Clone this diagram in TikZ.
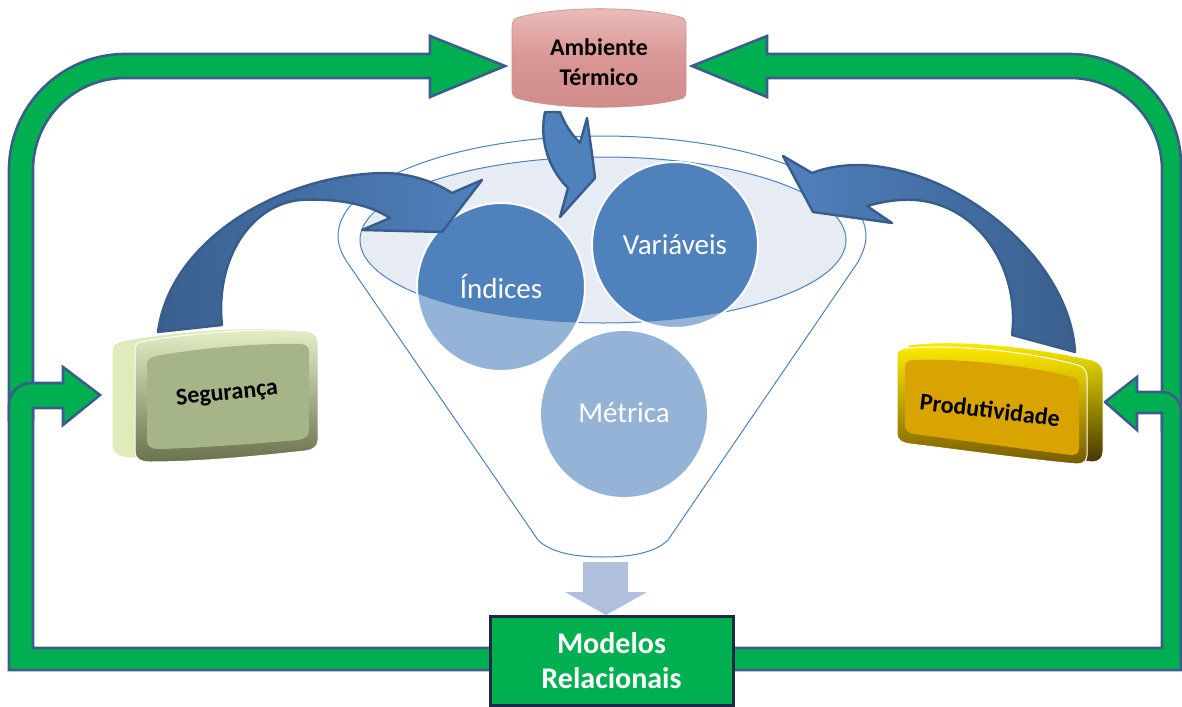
\documentclass[tikz,border=0pt]{standalone}
\usepackage{fontspec}
\setmainfont{Carlito}
\definecolor{grn}{HTML}{00B050}
\definecolor{gedge}{HTML}{3A5E8C}
\definecolor{bfill}{HTML}{4F81BD}
\definecolor{bdark}{HTML}{3A5F8E}
\definecolor{bedge}{HTML}{385D8A}
\definecolor{lightc}{HTML}{95B3D7}
\definecolor{ellc}{HTML}{E6EBF4}
\definecolor{dnarrow}{HTML}{AFBFDC}
\definecolor{navy}{HTML}{1B2A45}
\definecolor{pinkA}{HTML}{EBBDBC}
\definecolor{pinkB}{HTML}{D99694}
\definecolor{pinkC}{HTML}{CF8C8A}
\definecolor{segback}{RGB}{224,235,186}
\definecolor{segtop}{RGB}{230,240,200}
\definecolor{segmid}{RGB}{200,214,150}
\definecolor{segbot}{RGB}{105,114,78}
\definecolor{segface}{RGB}{165,181,136}
\definecolor{prodtop}{RGB}{255,242,0}
\definecolor{prodbackbot}{RGB}{70,54,0}
\definecolor{prodftop}{RGB}{255,236,0}
\definecolor{prodfmid}{RGB}{224,168,0}
\definecolor{prodfbot}{RGB}{120,90,0}
\definecolor{prodface}{RGB}{217,163,0}
\begin{document}
\begin{tikzpicture}[x=1pt,y=-1pt,
  garrow/.style={fill=grn, draw=gedge, line width=2.6pt, line join=miter},
  barrowst/.style={draw=bedge, line width=2.4pt, line join=round},
  ctext/.style={text=white, font=\fontsize{29}{34}\selectfont, inner sep=0pt},
  btext/.style={text=black, font=\bfseries\fontsize{24}{30}\selectfont, align=center, inner sep=0pt},
  wtext/.style={text=white, font=\bfseries\fontsize{30}{35}\selectfont, align=center, inner sep=0pt},
  thinblue/.style={draw=bfill, line width=1pt},
]
\useasboundingbox (0,0) rectangle (1182,706);

% ---------- funnel ----------
\draw[thinblue, fill=white] (338,236) .. controls (338,181) and (456,136) .. (602,136)
  .. controls (748,136) and (866,181) .. (866,236)
  .. controls (866,246) and (862,254) .. (858,262) -- (668,540)
  .. controls (655,553) and (630,557) .. (603,557)
  .. controls (576,557) and (551,553) .. (538,540) -- (347,262)
  .. controls (342,254) and (338,246) .. (338,236) -- cycle;
\draw[thinblue, fill=ellc] (603,240) ellipse [x radius=243, y radius=83];

% ---------- circles ----------
\fill[lightc] (501,287) circle [radius=84];
\fill[lightc] (675,245) circle [radius=83];
\fill[lightc] (624,414) circle [radius=83];
\begin{scope}
  \clip (603,240) ellipse [x radius=243, y radius=83];
  \fill[bfill] (501,287) circle [radius=84];
  \fill[bfill] (675,245) circle [radius=83];
\end{scope}
\draw[white, line width=2pt] (501,287) circle [radius=84];
\draw[white, line width=2pt] (675,245) circle [radius=83];
\node[ctext] (ind) at (501,286) {Índices};
\node[ctext] (var) at (675,245) {Variáveis};
\node[ctext] (met) at (624,413) {Métrica};

% ---------- down arrow ----------
\fill[dnarrow] (583,562) -- (628,562) -- (628,592) -- (647,592) -- (606,615) -- (565,592) -- (583,592) -- cycle;

% ---------- green loop arrows ----------
\draw[garrow] (9,420) -- (9,170) .. controls (9,106) and (61,54) .. (125,54) -- (430,54) -- (430,36)
  -- (505,66) -- (430,97) -- (430,78) -- (125,78) .. controls (74,78) and (33,119) .. (33,170) -- (33,420) -- cycle;
\draw[garrow] (9,670) -- (9,405) .. controls (9,393) and (19,383) .. (31,383) -- (63,383) -- (63,367)
  -- (100,395) -- (63,425) -- (63,408) -- (33,408) -- (33,648) -- (492,648) -- (492,670) -- cycle;
\draw[garrow] (1181,430) -- (1181,165) .. controls (1181,104) and (1131,54) .. (1070,54) -- (767,54) -- (767,36)
  -- (692,66) -- (767,97) -- (767,78) -- (1070,78) .. controls (1121,78) and (1162,119) .. (1162,170) -- (1162,430) -- cycle;
\draw[garrow] (1181,670) -- (1181,412) .. controls (1181,401) and (1173,392) .. (1162,392) -- (1137,392) -- (1137,377)
  -- (1105,402) -- (1137,430) -- (1137,413) -- (1162,413) -- (1162,648) -- (732,648) -- (732,670) -- cycle;

% ---------- blue curved arrows ----------
\draw[barrowst, left color=bdark, right color=bfill]
  (158,332) .. controls (170,240) and (280,175) .. (383,173)
  .. controls (410,173) and (435,182) .. (452,193) -- (482,180) -- (442,232) -- (362,230) -- (390,218)
  .. controls (370,205) and (340,198) .. (300,200)
  .. controls (250,205) and (215,260) .. (222,325) -- cycle;
\draw[barrowst, left color=bfill, right color=bdark]
  (1075,352) .. controls (1070,260) and (960,168) .. (860,165)
  .. controls (840,165) and (825,168) .. (812,173) -- (783,156) -- (813,212) -- (892,223) -- (867,206)
  .. controls (885,201) and (900,199) .. (915,200)
  .. controls (980,205) and (1020,270) .. (1012,335) -- cycle;
\draw[barrowst, fill=bfill]
  (545,112) .. controls (540,135) and (545,165) .. (568,188) -- (560,217) -- (595,178)
  .. controls (593,160) and (590,140) .. (587,118) -- (580,143)
  .. controls (572,135) and (565,125) .. (560,112) -- cycle;

% ---------- Ambiente Termico ----------
\draw[draw=pinkC, line width=0.6pt, top color=pinkA, bottom color=pinkC, middle color=pinkB]
  (512,28) .. controls (512,20) and (515,18) .. (520,17) .. controls (560,6) and (640,6) .. (680,17)
  .. controls (685,18) and (686,20) .. (686,28) -- (686,90) .. controls (686,96) and (685,98) .. (680,99)
  .. controls (640,110) and (560,110) .. (520,99) .. controls (515,98) and (512,96) .. (512,90) -- cycle;
\node[btext, font=\bfseries\fontsize{24}{30}\selectfont] (amb) at (599,62) {Ambiente\\Térmico};

% ---------- Seguranca ----------
\draw[white, line width=1pt, fill=segback]
  (112,352) .. controls (112,345) and (115,343) .. (122,341) .. controls (180,330) and (250,326) .. (300,330)
  -- (300,445) .. controls (250,452) and (180,458) .. (130,458) .. controls (118,458) and (112,452) .. (112,445) -- cycle;
\draw[white, line width=1pt, top color=segtop, middle color=segmid, bottom color=segbot]
  (135,350) .. controls (135,344) and (138,342) .. (145,341) .. controls (200,332) and (260,328) .. (305,331)
  .. controls (314,332) and (318,336) .. (318,343) -- (318,440) .. controls (318,446) and (314,450) .. (305,451)
  .. controls (260,456) and (200,462) .. (150,462) .. controls (140,462) and (135,458) .. (135,452) -- cycle;
\fill[segface]
  (147,365) .. controls (147,360) and (150,357) .. (156,356) .. controls (200,348) and (260,343) .. (300,344)
  .. controls (306,344) and (309,347) .. (309,352) -- (309,430) .. controls (309,436) and (305,439) .. (298,440)
  .. controls (250,444) and (200,448) .. (158,449) .. controls (151,449) and (147,446) .. (147,440) -- cycle;
\node[btext, font=\bfseries\fontsize{24}{28}\selectfont, rotate=6] (seg) at (227,394) {Segurança};

% ---------- Produtividade ----------
\draw[white, line width=1pt, top color=prodtop, bottom color=prodbackbot]
  (908,345) .. controls (960,338) and (1040,348) .. (1092,360) .. controls (1099,362) and (1103,366) .. (1103,372)
  -- (1103,452) .. controls (1103,458) and (1099,462) .. (1092,462) -- (920,440) -- cycle;
\draw[white, line width=1pt, top color=prodftop, middle color=prodfmid, bottom color=prodfbot]
  (897,356) .. controls (897,350) and (901,348) .. (908,348) .. controls (960,344) and (1030,352) .. (1078,365)
  .. controls (1084,367) and (1087,371) .. (1087,377) -- (1087,455) .. controls (1087,461) and (1083,464) .. (1077,464)
  .. controls (1030,460) and (960,450) .. (910,444) .. controls (902,443) and (897,440) .. (897,434) -- cycle;
\fill[prodface]
  (905,367) .. controls (905,362) and (908,360) .. (914,360) .. controls (960,358) and (1030,366) .. (1072,377)
  .. controls (1077,378) and (1079,381) .. (1079,386) -- (1079,448) .. controls (1079,453) and (1076,455) .. (1071,455)
  .. controls (1030,450) and (960,440) .. (914,434) .. controls (908,433) and (905,430) .. (905,425) -- cycle;
\node[btext, font=\bfseries\fontsize{24}{28}\selectfont, rotate=-7] (prod) at (990,410) {Produtividade};

% ---------- Modelos Relacionais ----------
\node[draw=navy, line width=3pt, fill=grn, minimum width=243pt, minimum height=89pt, inner sep=0pt] (mod) at (611.5,660.5) {};
\node[wtext] (modt) at (mod.center) {Modelos\\Relacionais};
\end{tikzpicture}
\end{document}
